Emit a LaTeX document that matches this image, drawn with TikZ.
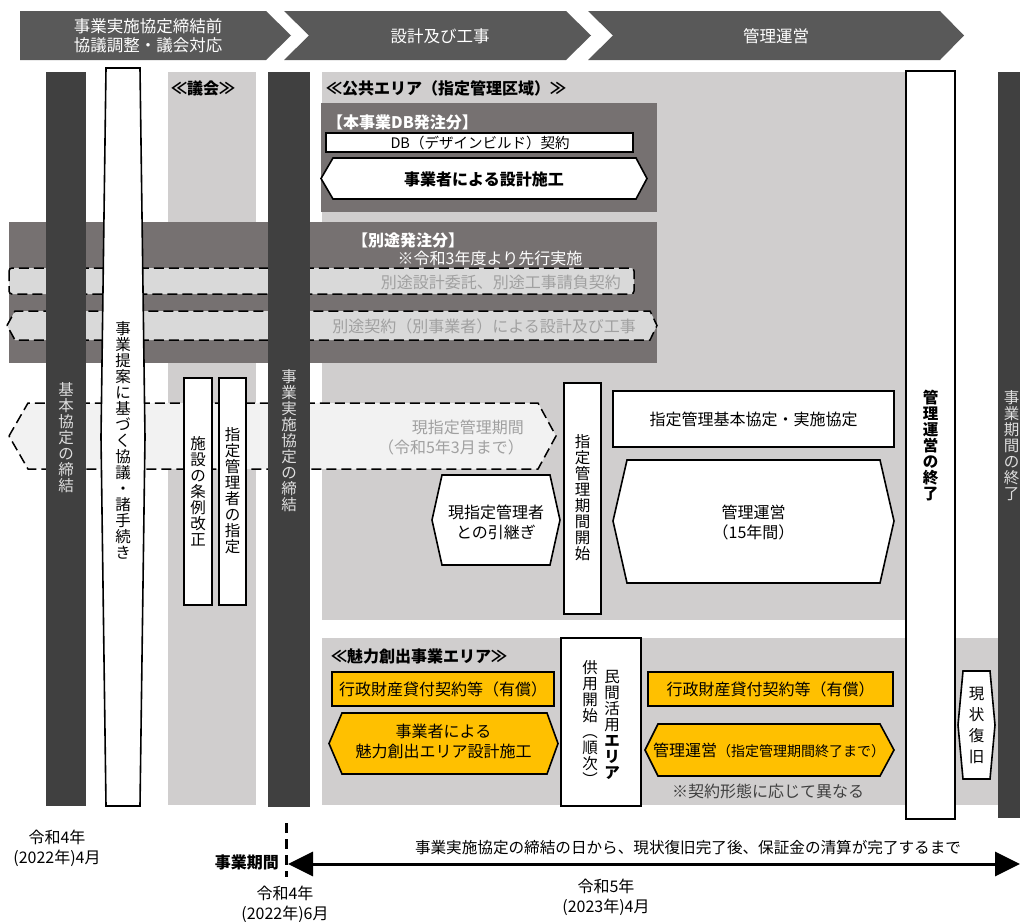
\documentclass[tikz,border=0pt]{standalone}
\usepackage{fontspec}
\setmainfont{Noto Sans CJK JP}
\usetikzlibrary{arrows.meta}
\definecolor{hdr}{RGB}{89,89,89}
\definecolor{dcol}{RGB}{64,64,64}
\definecolor{lgray}{RGB}{208,206,206}
\definecolor{band}{RGB}{118,113,113}
\definecolor{dbox}{RGB}{217,217,217}
\definecolor{pale}{RGB}{242,242,242}
\definecolor{gtext}{RGB}{160,160,160}
\definecolor{orng}{RGB}{255,192,0}
\definecolor{coltext}{RGB}{222,222,222}
\tikzset{
  t/.style={font=\fontsize{16}{20}\selectfont, inner sep=0, align=center},
  tb/.style={font=\fontsize{16}{20}\selectfont\bfseries, inner sep=0, align=center},
  vt/.style={font=\fontsize{15.5}{16}\selectfont, inner sep=0, align=center},
  vtb/.style={font=\fontsize{15.5}{16}\selectfont\bfseries, inner sep=0, align=center},
  vtw/.style={vt, text=coltext},
  box/.style={draw=black, line width=1.6},
  dbx/.style={draw=black, line width=1.5, dash pattern=on 10pt off 5pt},
  hdrtext/.style={font=\fontsize{16.5}{19}\selectfont, inner sep=0, align=center, text=white},
}
\begin{document}
\begin{tikzpicture}[x=1pt,y=-1pt]
\useasboundingbox (0,0) rectangle (1020,921);
\clip (0,0) rectangle (1020,921);

% ---------- header chevrons ----------
\fill[hdr] (20,11) -- (266,11) -- (291,35.5) -- (266,60) -- (20,60) -- cycle;
\fill[hdr] (284,11) -- (566,11) -- (591,35.5) -- (566,60) -- (284,60) -- (309,35.5) -- cycle;
\fill[hdr] (588,11) -- (940,11) -- (964,35.5) -- (940,60) -- (588,60) -- (613,35.5) -- cycle;
\node[hdrtext] (h1) at (148,36) {事業実施協定締結前\\協議調整・議会対応};
\node[hdrtext] (h2) at (440,36) {設計及び工事};
\node[hdrtext] (h3) at (776,36) {管理運営};

% ---------- light gray areas ----------
\fill[lgray] (168,72) rectangle (256,805);
\fill[lgray] (322,72) rectangle (906,620);
\fill[lgray] (322,638) rectangle (1000,805);
\node[tb, anchor=west] (gikai) at (171,88) {≪議会≫};
\node[tb, anchor=west] (kokyo) at (326,88) {≪公共エリア（指定管理区域）≫};

% ---------- DB order ----------
\fill[band] (321,103) rectangle (657,212);
\node[tb, anchor=west, text=white] (dblabel) at (327,122) {【本事業DB発注分】};
\draw[box, fill=white] (326,133) rectangle (633,152);
\node[t, font=\fontsize{14.5}{16}\selectfont] (dbc) at (480,143) {DB（デザインビルド）契約};
\draw[box, fill=white] (321,178.5) -- (333,158) -- (636,158) -- (647,178.5) -- (636,199) -- (333,199) -- cycle;
\node[tb] (dbs) at (484,179) {事業者による設計施工};

% ---------- separate order band ----------
\fill[band] (9,222) rectangle (657,363);
\node[tb, text=white] (betto) at (408,240) {【別途発注分】};
\node[t, text=white] (senko) at (490,258) {※令和3年度より先行実施};
\draw[dbx, fill=dbox, rounded corners=3] (9,268) rectangle (634,294);
\node[t, text=gtext, anchor=east] (bettoitaku) at (621,282) {別途設計委託、別途工事請負契約};
\draw[dbx, fill=dbox] (7,325.5) -- (15,311) -- (650,311) -- (657,325.5) -- (650,340) -- (15,340) -- cycle;
\node[t, text=gtext, anchor=east] (bettokeiyaku) at (636,326) {別途契約（別事業者）による設計及び工事};

% ---------- current designated management band ----------
\draw[dbx, fill=pale] (9,436) -- (28,403) -- (538,403) -- (556,436) -- (538,469) -- (28,469) -- cycle;
\node[t, text=gtext, align=right, anchor=east] (genkikan) at (524,438) {現指定管理期間\\（令和5年3月まで）};

% ---------- dark columns ----------
\fill[dcol] (46,72) rectangle (86,806);
\node[vtw] (kihon) at (66,438) {基\\本\\協\\定\\の\\締\\結};
\fill[dcol] (268,72) rectangle (310,807);
\node[vtw] (jisshi) at (289,441) {事\\業\\実\\施\\協\\定\\の\\締\\結};
\fill[dcol] (998,72) rectangle (1040,818);
\node[vtw] (kikanend) at (1011.5,446) {事\\業\\期\\間\\の\\終\\了};

% ---------- proposal hexagon ----------
\draw[box, fill=white] (106,68) -- (140,68) -- (145,437) -- (140,806) -- (106,806) -- (101,437) -- cycle;
\node[vt] (teian) at (123,440) {事\\業\\提\\案\\に\\基\\づ\\く\\協\\議\\・\\諸\\手\\続\\き};

% ---------- council boxes ----------
\draw[box, fill=white] (184,378) rectangle (212,605);
\node[vt] (jorei) at (198,491) {施\\設\\の\\条\\例\\改\\正};
\draw[box, fill=white] (219,378) rectangle (246,605);
\node[vt] (shitei) at (232.5,491) {指\\定\\管\\理\\者\\の\\指\\定};

% ---------- public area contents ----------
\draw[box, fill=white] (564,383) rectangle (601,614);
\node[vt] (kaishi) at (582.5,498) {指\\定\\管\\理\\期\\間\\開\\始};
\draw[box, fill=white] (432,520) -- (442,475) -- (550,475) -- (560,520) -- (550,565) -- (442,565) -- cycle;
\node[t] (hikitsugi) at (496,522) {現指定管理者\\との引継ぎ};
\draw[box, fill=white] (613,391) rectangle (894,447);
\node[t] (kyotei) at (753.5,419) {指定管理基本協定・実施協定};
\draw[box, fill=white] (613,521) -- (627,460) -- (880,460) -- (894,521) -- (880,583) -- (627,583) -- cycle;
\node[t] (unei) at (753.5,523) {管理運営\\（15年間）};

% ---------- end of management column ----------
\draw[box, fill=white] (906,71) rectangle (955,819);
\node[vtb] (shuryo) at (930.5,446) {管\\理\\運\\営\\の\\終\\了};

% ---------- attraction area ----------
\node[tb, anchor=west] (miryoku) at (331,656) {≪魅力創出事業エリア≫};
\draw[box, fill=orng] (332,672) rectangle (554,706);
\node[t] (kashi1) at (443,689) {行政財産貸付契約等（有償）};
\draw[box, fill=orng] (329,743.5) -- (342,713) -- (547,713) -- (558,743.5) -- (547,774) -- (342,774) -- cycle;
\node[t] (sekko2) at (443.5,741) {事業者による\\魅力創出エリア設計施工};

\draw[box, fill=white] (561,638) rectangle (641,806);
\node[vt] (minkan) at (612,725) {民\\間\\活\\用\\{\bfseries エ}\\{\bfseries リ}\\{\bfseries ア}};
\node[vt] (kyoyo) at (590,723) {供\\用\\開\\始\\︵\\順\\次\\︶};

\draw[box, fill=orng] (648,672) rectangle (893,706);
\node[t] (kashi2) at (770.5,689) {行政財産貸付契約等（有償）};
\draw[box, fill=orng] (645,750) -- (658,724) -- (880,724) -- (894,750) -- (880,776) -- (658,776) -- cycle;
\node[t] (unei2) at (769,750) {管理運営{\fontsize{14}{15}\selectfont（指定管理期間終了まで）}};
\node[t, text=dcol] (keiyaku) at (768,791) {※契約形態に応じて異なる};

\draw[box, fill=white] (963,671) -- (990,671) -- (995,725) -- (990,779) -- (963,779) -- (958,725) -- cycle;
\node[vt, font=\fontsize{15.5}{21}\selectfont] (fukkyu) at (976.5,725) {現\\状\\復\\旧};

% ---------- bottom timeline ----------
\node[t] (r4a) at (57,848) {令和4年\\(2022年)4月};
\coordinate (dtop) at (286,823);
\coordinate (dbot) at (286,877);
\draw[line width=3, dash pattern=on 10pt off 6pt] (dtop) -- (dbot);
\node[tb, anchor=east] (jigyokikan) at (279,862) {事業期間};
\coordinate (aL) at (288,864);
\coordinate (aR) at (1020,864);
\draw[line width=3, {Triangle[length=25pt,width=24pt]}-{Triangle[length=25pt,width=24pt]}] (aL) -- (aR);
\node[t, font=\fontsize{15.6}{20}\selectfont] (period) at (688,848) {事業実施協定の締結の日から、現状復旧完了後、保証金の清算が完了するまで};
\node[t] (r4b) at (285,904) {令和4年\\(2022年)6月};
\node[t] (r5) at (606,897) {令和5年\\(2023年)4月};
\end{tikzpicture}
\end{document}
